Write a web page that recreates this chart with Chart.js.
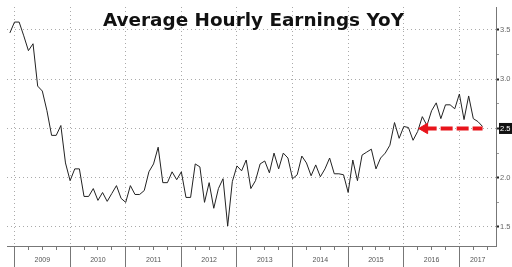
<!DOCTYPE html>
<html>
<head>
<meta charset="utf-8">
<title>Average Hourly Earnings YoY</title>
<script src="https://cdn.jsdelivr.net/npm/chart.js@4.4.1/dist/chart.umd.min.js"></script>
<style>
  html, body { margin: 0; padding: 0; background: #fff; }
  #wrap { position: relative; width: 512px; height: 267px; }
  canvas { display: block; }
  #title {
    position: absolute; left: 0; top: 11px; width: 507px;
    text-align: center; white-space: nowrap;
    font: bold 18.4px "DejaVu Sans", sans-serif; line-height: 18px;
    color: #111;
  }
</style>
</head>
<body>
<div id="wrap">
  <canvas id="chart" width="512" height="267"></canvas>
  <div id="title">Average Hourly Earnings YoY</div>
</div>
<script>
// months are counted from Jan 2009 (= 0); the series starts Dec 2008
const yearLabels = ['2009', '2010', '2011', '2012', '2013', '2014', '2015', '2016', '2017'];
const firstMonth = -1;
const earnings = [
  3.47,
  3.58, 3.58, 3.44, 3.29, 3.36, 2.93, 2.88, 2.68, 2.43, 2.43, 2.53, 2.15,
  1.97, 2.09, 2.09, 1.81, 1.81, 1.89, 1.77, 1.85, 1.76, 1.84, 1.92, 1.79,
  1.75, 1.92, 1.83, 1.83, 1.87, 2.06, 2.14, 2.31, 1.95, 1.95, 2.06, 1.98,
  2.06, 1.80, 1.80, 2.14, 2.11, 1.75, 1.95, 1.69, 1.89, 1.99, 1.51, 1.96,
  2.12, 2.07, 2.18, 1.89, 1.97, 2.14, 2.17, 2.05, 2.25, 2.09, 2.25, 2.20,
  1.99, 2.03, 2.22, 2.15, 2.02, 2.13, 2.01, 2.09, 2.20, 2.04, 2.04, 2.03,
  1.85, 2.18, 1.97, 2.23, 2.26, 2.29, 2.09, 2.20, 2.25, 2.33, 2.56, 2.40,
  2.52, 2.51, 2.38, 2.47, 2.62, 2.53, 2.68, 2.76, 2.60, 2.74, 2.74, 2.70,
  2.85, 2.59, 2.83, 2.60, 2.57, 2.52
];
const yTicks = [1.5, 1.75, 2.0, 2.25, 2.5, 2.75, 3.0, 3.25, 3.5];
const latestLevel = 2.5;
// red arrow pointing back at the 2.5 level
const arrowMonths = [88.5, 101];
const arrowLevel = 2.5;

const xMin = -1.62, xMax = 103.9;
const yMin = 1.307, yMax = 3.733;

const clear = 'rgba(0,0,0,0)';
const isMajorY = v => Math.abs(v * 2 - Math.round(v * 2)) < 1e-6;
const lastYearStart = 12 * Math.floor(xMax / 12);
const lastYearCenter = (lastYearStart + xMax) / 2;

function buildXTicks(axis) {
  const ticks = [];
  for (let m = 0; m <= xMax; m += 3) ticks.push({ value: m });
  if (lastYearStart + 12 > xMax) ticks.push({ value: lastYearCenter });
  ticks.sort((a, b) => a.value - b.value);
  axis.ticks = ticks;
}

function xLabel(value) {
  if (value === lastYearCenter) return yearLabels[lastYearStart / 12];
  if (value % 12 === 6 && value + 6 <= xMax) return yearLabels[(value - 6) / 12];
  return '';
}

const linePoints = earnings.map((v, k) => ({ x: firstMonth + k, y: v }));
const arrowPoints = arrowMonths.map(m => ({ x: m, y: arrowLevel }));

new Chart(document.getElementById('chart').getContext('2d'), {
  type: 'line',
  data: {
    datasets: [{
      data: arrowPoints,
      borderColor: '#e8141b',
      backgroundColor: '#e8141b',
      borderWidth: 4,
      borderDash: [12, 4],
      pointRadius: [6, 0],
      pointStyle: 'triangle',
      pointRotation: -90,
      pointBorderWidth: 1,
      order: 0
    }, {
      data: linePoints,
      borderColor: '#222',
      borderWidth: 1,
      pointRadius: 0,
      tension: 0,
      order: 1
    }]
  },
  options: {
    responsive: false,
    animation: false,
    layout: { padding: 0 },
    plugins: { legend: { display: false }, tooltip: { enabled: false } },
    scales: {
      x: {
        type: 'linear',
        min: xMin,
        max: xMax,
        afterBuildTicks: buildXTicks,
        afterFit: axis => { axis.height = 21; },
        border: { color: '#777', width: 1, dash: [1, 3] },
        grid: {
          color: c => (c.tick && c.tick.value % 12 === 0) ? '#aaa' : clear,
          tickLength: 21,
          tickColor: c => (c.tick && c.tick.value % 3 === 0) ? '#777' : clear,
          tickBorderDash: c => (c.tick && c.tick.value % 12 === 0) ? [] : [3, 100]
        },
        ticks: {
          autoSkip: false,
          maxRotation: 0,
          padding: -11,
          color: '#555',
          font: { family: 'Liberation Sans', size: 7 },
          callback: xLabel
        }
      },
      y: {
        position: 'right',
        min: yMin,
        max: yMax,
        afterBuildTicks: axis => { axis.ticks = yTicks.map(v => ({ value: v })); },
        afterFit: axis => { axis.width = 16; },
        border: { color: '#777', width: 1, dash: [1, 3] },
        grid: {
          color: c => (c.tick && isMajorY(c.tick.value)) ? '#aaa' : clear,
          tickLength: 3,
          tickColor: c => (c.tick && isMajorY(c.tick.value)) ? '#222' : '#999',
          tickWidth: c => (c.tick && isMajorY(c.tick.value)) ? 2 : 1
        },
        ticks: {
          padding: 1,
          font: { family: 'Liberation Sans', size: 7.5 },
          color: c => (c.tick && c.tick.value === latestLevel) ? '#fff' : '#666',
          showLabelBackdrop: c => !!(c.tick && c.tick.value === latestLevel),
          backdropColor: '#111',
          backdropPadding: { top: 1, bottom: 1, left: 1, right: 2 },
          callback: v => isMajorY(v) ? v.toFixed(1) : ''
        }
      }
    }
  }
});
</script>
</body>
</html>
